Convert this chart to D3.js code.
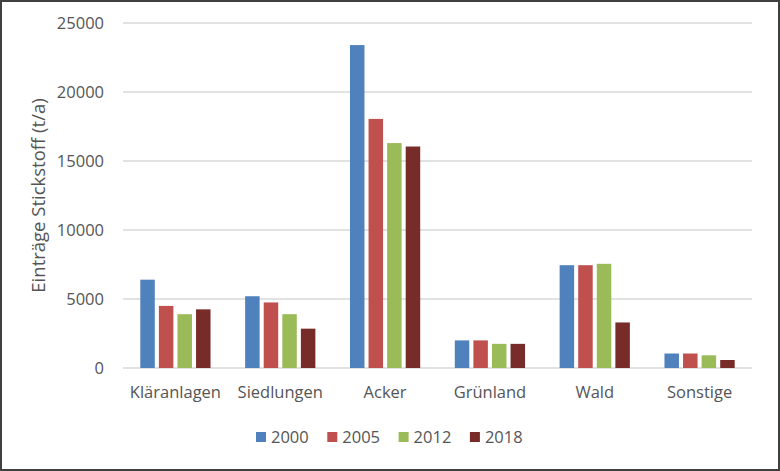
<!DOCTYPE html>
<html>
<head>
<meta charset="utf-8">
<script src="https://cdn.jsdelivr.net/npm/d3@7"></script>
<style>
  body { margin: 0; background: #fff; }
  svg { display: block; font-family: "Open Sans", sans-serif; }
</style>
</head>
<body>
<div id="chart"></div>
<script>
// categories and series
var categories = ["Kläranlagen", "Siedlungen", "Acker", "Grünland", "Wald", "Sonstige"];
var years = ["2000", "2005", "2012", "2018"];
var values2000 = [6400, 5200, 23400, 2000, 7450, 1050];
var values2005 = [4500, 4750, 18050, 2000, 7450, 1050];
var values2012 = [3900, 3900, 16300, 1750, 7550, 920];
var values2018 = [4250, 2850, 16050, 1750, 3300, 580];
var yTicks = [0, 5000, 10000, 15000, 20000, 25000];
var colors = ["#4F81BD", "#C0504D", "#9BBB59", "#772C2A"];

var series = [values2000, values2005, values2012, values2018];

var width = 780,
    height = 471;

var svg = d3.select("#chart").append("svg")
    .attr("width", width)
    .attr("height", height);

svg.append("rect")
    .attr("width", width)
    .attr("height", height)
    .attr("fill", "#fff");

// plot area
var plotLeft = 123, plotRight = 752, plotTop = 23, plotBottom = 368;

var x0 = d3.scaleBand()
    .domain(categories)
    .range([plotLeft, plotRight])
    .paddingInner(0.33)
    .paddingOuter(0.165);

var x1 = d3.scaleBand()
    .domain(years)
    .range([0, x0.bandwidth()])
    .paddingInner(0.22);

var y = d3.scaleLinear()
    .domain([0, 25000])
    .range([plotBottom, plotTop]);

var color = d3.scaleOrdinal().domain(years).range(colors);

// gridlines
svg.append("g")
    .selectAll("line")
    .data(yTicks)
    .enter().append("line")
    .attr("x1", plotLeft)
    .attr("x2", plotRight)
    .attr("y1", function (d) { return y(d); })
    .attr("y2", function (d) { return y(d); })
    .attr("stroke", "#D9D9D9")
    .attr("stroke-width", 1.3);

// y axis labels
var yAxis = d3.axisLeft(y)
    .tickValues(yTicks)
    .tickSize(0)
    .tickPadding(19)
    .tickFormat(d3.format("d"));

var gy = svg.append("g")
    .attr("transform", "translate(" + plotLeft + ",0)")
    .call(yAxis);
gy.select(".domain").remove();
gy.selectAll("text")
    .attr("fill", "#555")
    .style("font-size", "16.5px")
    .style("font-family", "'Open Sans', sans-serif");

// bars
var groups = svg.append("g")
    .selectAll("g")
    .data(categories)
    .enter().append("g")
    .attr("transform", function (d) { return "translate(" + x0(d) + ",0)"; });

groups.selectAll("rect")
    .data(function (d, i) {
        return years.map(function (yr, j) { return { year: yr, value: series[j][i] }; });
    })
    .enter().append("rect")
    .attr("x", function (d) { return x1(d.year); })
    .attr("width", x1.bandwidth())
    .attr("y", function (d) { return y(d.value); })
    .attr("height", function (d) { return y(0) - y(d.value); })
    .attr("fill", function (d) { return color(d.year); });

// x axis labels
var xAxis = d3.axisBottom(x0)
    .tickSize(0)
    .tickPadding(18);

var gx = svg.append("g")
    .attr("transform", "translate(0," + plotBottom + ")")
    .call(xAxis);
gx.select(".domain").remove();
gx.selectAll("text")
    .attr("fill", "#555")
    .style("font-size", "16.5px")
    .style("font-family", "'Open Sans', sans-serif");

// y axis title
svg.append("text")
    .attr("transform", "translate(45," + ((plotTop + plotBottom) / 2) + ") rotate(-90)")
    .attr("text-anchor", "middle")
    .attr("fill", "#555")
    .style("font-size", "18.5px")
    .text("Einträge Stickstoff (t/a)");

// legend
var legend = svg.append("g")
    .selectAll("g")
    .data(years)
    .enter().append("g")
    .attr("transform", function (d, i) { return "translate(" + (256 + i * 71.3) + ",432)"; });

legend.append("rect")
    .attr("width", 10)
    .attr("height", 10)
    .attr("fill", function (d) { return color(d); });

legend.append("text")
    .attr("x", 15)
    .attr("y", 11)
    .attr("fill", "#555")
    .style("font-size", "16.5px")
    .text(function (d) { return d; });

// outer frame
svg.append("rect")
    .attr("x", 1)
    .attr("y", 1)
    .attr("width", width - 2)
    .attr("height", height - 2)
    .attr("fill", "none")
    .attr("stroke", "#404040")
    .attr("stroke-width", 2);
</script>
</body>
</html>
